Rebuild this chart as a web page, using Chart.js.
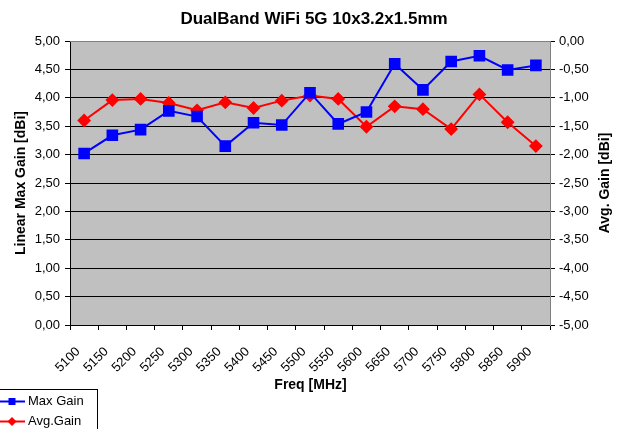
<!DOCTYPE html>
<html>
<head>
<meta charset="utf-8">
<script src="https://cdn.jsdelivr.net/npm/chart.js@4"></script>
<style>
  html, body { margin: 0; padding: 0; background: #fff; }
</style>
</head>
<body>
<canvas id="chart" width="618" height="429"></canvas>
<script>
const freqLabels = ['5100', '5150', '5200', '5250', '5300', '5350', '5400', '5450', '5500',
    '5550', '5600', '5650', '5700', '5750', '5800', '5850', '5900'];
const maxGain = [3.02, 3.34, 3.44, 3.77, 3.67, 3.15, 3.56, 3.52, 4.09,
    3.54, 3.75, 4.60, 4.14, 4.64, 4.74, 4.49, 4.57];
const avgGain = [-1.40, -1.04, -1.02, -1.09, -1.22, -1.08, -1.18, -1.05, -0.96,
    -1.02, -1.51, -1.15, -1.20, -1.55, -0.94, -1.43, -1.85];

const chartTitle = 'DualBand WiFi 5G 10x3.2x1.5mm';
const xTitle = 'Freq [MHz]';
const yLeftTitle = 'Linear Max Gain [dBi]';
const yRightTitle = 'Avg. Gain [dBi]';

const FONT = 'Arial, "Liberation Sans", sans-serif';
const ctx = document.getElementById('chart');

const comma = (v) => v.toFixed(2).replace('.', ',');

// background, titles and legend box drawn by hand
const decor = {
    id: 'decor',
    beforeDraw(chart) {
        const c = chart.ctx, a = chart.chartArea;
        c.save();
        c.fillStyle = '#fff';
        c.fillRect(0, 0, chart.width, chart.height);
        c.fillStyle = '#c0c0c0';
        c.fillRect(a.left, a.top, a.right - a.left, a.bottom - a.top);
        c.restore();
    },
    afterDraw(chart) {
        const c = chart.ctx, a = chart.chartArea;
        const midY = (a.top + a.bottom) / 2;
        c.save();
        c.strokeStyle = '#808080';
        c.lineWidth = 1;
        c.beginPath();
        c.moveTo(a.left, a.top + 0.5);
        c.lineTo(a.right, a.top + 0.5);
        c.stroke();

        c.fillStyle = '#000';
        c.textAlign = 'center';
        c.textBaseline = 'middle';
        c.font = 'bold 17px ' + FONT;
        c.fillText(chartTitle, 314, 19);
        c.font = 'bold 14px ' + FONT;
        c.fillText(xTitle, 310.5, 385);

        c.save();
        c.translate(21, midY);
        c.rotate(-Math.PI / 2);
        c.fillText(yLeftTitle, 0, 0);
        c.restore();
        c.save();
        c.translate(605, midY);
        c.rotate(-Math.PI / 2);
        c.fillText(yRightTitle, 0, 0);
        c.restore();

        // legend
        c.strokeStyle = '#000';
        c.lineWidth = 1;
        c.strokeRect(-0.5, 389.5, 98, 42);
        const items = [
            { label: 'Max Gain', color: '#0000ff', y: 401.5, style: 'rect' },
            { label: 'Avg.Gain', color: '#ff0000', y: 421.5, style: 'diamond' },
        ];
        items.forEach((it) => {
            c.strokeStyle = it.color;
            c.fillStyle = it.color;
            c.lineWidth = 2;
            c.beginPath();
            c.moveTo(0, it.y);
            c.lineTo(25, it.y);
            c.stroke();
            c.beginPath();
            if (it.style == 'rect') {
                c.fillRect(8.5, it.y - 3.5, 7, 7);
            } else {
                c.moveTo(12, it.y - 4.5);
                c.lineTo(16.5, it.y);
                c.lineTo(12, it.y + 4.5);
                c.lineTo(7.5, it.y);
                c.closePath();
                c.fill();
            }
            c.fillStyle = '#000';
            c.textAlign = 'left';
            c.font = '13px ' + FONT;
            c.fillText(it.label, 28, it.y);
        });
        c.restore();
    },
};

new Chart(ctx, {
    type: 'line',
    data: {
        labels: freqLabels,
        datasets: [
            {
                label: 'Max Gain',
                data: maxGain,
                yAxisID: 'y',
                borderColor: '#0000ff',
                backgroundColor: '#0000ff',
                borderWidth: 2,
                pointStyle: 'rect',
                pointRadius: 6.8,
                pointHoverRadius: 6.8,
                tension: 0,
            },
            {
                label: 'Avg.Gain',
                data: avgGain,
                yAxisID: 'y1',
                borderColor: '#ff0000',
                backgroundColor: '#ff0000',
                borderWidth: 2,
                pointStyle: 'rectRot',
                pointRadius: 5.5,
                pointHoverRadius: 5.5,
                tension: 0,
            },
        ],
    },
    options: {
        responsive: false,
        animation: false,
        layout: { padding: { top: 41, left: 0, right: 0, bottom: 0 } },
        plugins: {
            legend: { display: false },
            title: { display: false },
            tooltip: { enabled: false },
        },
        scales: {
            x: {
                offset: true,
                grid: { offset: true, drawOnChartArea: false, color: '#000', tickLength: 5 },
                border: { color: '#000' },
                ticks: {
                    color: '#000',
                    font: { family: FONT, size: 13 },
                    minRotation: 45,
                    maxRotation: 45,
                    autoSkip: false,
                    padding: 14,
                    labelOffset: -6,
                },
                afterFit(scale) { scale.height = 104; },
            },
            y: {
                position: 'left',
                min: 0,
                max: 5,
                ticks: {
                    stepSize: 0.5,
                    color: '#000',
                    font: { family: FONT, size: 13 },
                    callback: (v) => comma(v),
                    padding: 5,
                },
                grid: { color: '#000', tickLength: 5 },
                border: { color: '#000' },
                afterFit(scale) { scale.width = 70; },
            },
            y1: {
                position: 'right',
                min: -5,
                max: 0,
                ticks: {
                    stepSize: 0.5,
                    color: '#000',
                    font: { family: FONT, size: 13 },
                    callback: (v) => comma(v),
                    padding: 4,
                },
                grid: { drawOnChartArea: false, color: '#000', tickLength: 5 },
                border: { color: '#808080' },
                afterFit(scale) { scale.width = 68; },
            },
        },
    },
    plugins: [decor],
});
</script>
</body>
</html>
